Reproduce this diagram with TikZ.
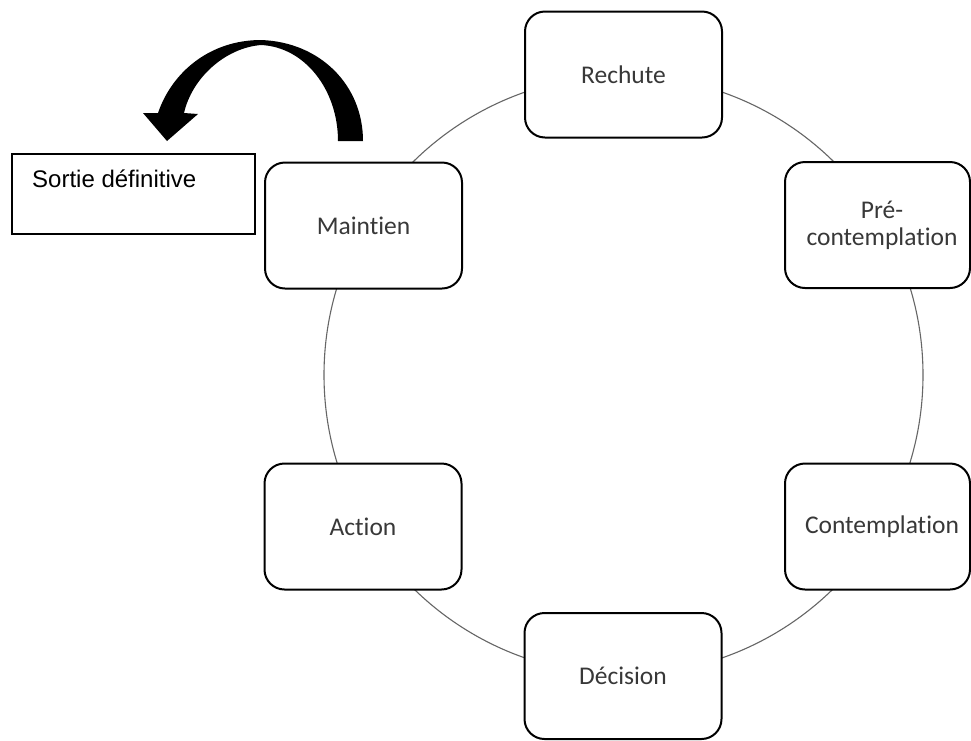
\documentclass[tikz,border=0pt]{standalone}
\usepackage{fontspec}
\setmainfont{Carlito}
\newfontfamily\arialfont{Liberation Sans}
\newfontfamily\calfont[Ligatures={NoCommon}]{Carlito}
\begin{document}
\begin{tikzpicture}[x=1pt,y=-1pt,
  stage/.style={draw, line width=2pt, rounded corners=20pt, fill=white,
    minimum width=197pt, minimum height=126pt, inner sep=0pt,
    align=center, text=black!78,
    font=\calfont\fontsize{25.5}{27}\selectfont},
  narrow/.style={minimum width=185pt},
  ring/.style={draw=black!60, line width=1.1pt},
  exitbox/.style={draw, line width=1.2pt, minimum width=243pt, minimum height=80pt, inner sep=0pt},
  exittext/.style={font=\arialfont\fontsize{24}{28}\selectfont, inner sep=0pt, anchor=base west}
]
\useasboundingbox (0,0) rectangle (971,740);
\fill[white] (0,0) rectangle (971,740);

% cycle ring behind the stages
\coordinate (ctr) at (623.5,375);
\draw[ring] (ctr) circle[radius=299.5];

% stages of the cycle
\node[stage] (rechute) at (623.5,74.5) {Rechute};
\node[stage, narrow] (pre) at (877.5,225) {\hspace*{9pt}Pré-\\\hspace*{9pt}contemplation};
\node[stage, narrow] (contemp) at (877.5,526.5) {\hspace*{9pt}Contemplation};
\node[stage] (decision) at (623,676) {Décision};
\node[stage] (action) at (363,526.5) {Action};
\node[stage] (maintien) at (363.5,225.5) {Maintien};

% exit box
\node[exitbox] (sortie) at (133.5,194) {};
\node[exittext] (sortietxt) at (32,187) {Sortie définitive};

% curved block arrow from the maintenance stage to the exit
\fill[black]
  (338,141) -- (363,141)
  .. controls (363,85) and (320,42) .. (261,40)
  .. controls (210,40) and (172,72) .. (158,113)
  -- (143,113) -- (167,141) -- (198,114) -- (184,113)
  .. controls (192,78) and (225,48) .. (261,45)
  .. controls (305,47) and (338,90) .. (338,141)
  -- cycle;
\end{tikzpicture}
\end{document}
